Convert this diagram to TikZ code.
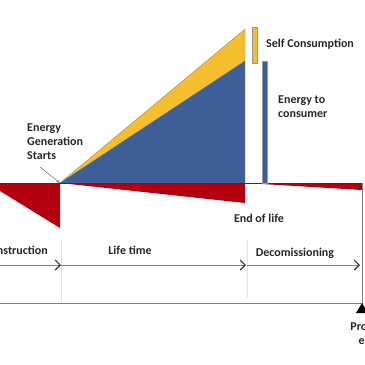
\documentclass[tikz,border=0pt]{standalone}
\usepackage{fontspec}
\setmainfont{Carlito}
\usetikzlibrary{arrows.meta}
\definecolor{selfyellow}{HTML}{F4BE2F}
\definecolor{consumerblue}{HTML}{3D5E96}
\definecolor{lossred}{HTML}{B3000F}
\definecolor{phaseline}{HTML}{D2E8EC}

\begin{document}
\begin{tikzpicture}[x=1pt, y=-1pt, >={Straight Barb[length=5pt,width=10pt,color=black!80,line width=1.1pt]},
    lbl/.style={font=\bfseries\fontsize{12}{14}\selectfont, text=black!85, inner sep=0pt, align=left},
    phase/.style={->, draw=gray, line width=0.9pt},
    divider/.style={draw=phaseline, line width=0.6pt}]
    \useasboundingbox (0,0) rectangle (365,365);
    % points on the time axis
    \coordinate (start) at (60,183);
    \coordinate (eol) at (245,183);
    \coordinate (pend) at (362,183);
    % energy spent and produced
    \fill[lossred] (0,183) -- (start) -- (60,228) -- (0,191) -- cycle;
    \fill[lossred] (start) -- (eol) -- (245,203) -- cycle;
    \fill[lossred] (eol) -- (pend) -- (362,190) -- cycle;
    \filldraw[fill=selfyellow, draw=black!50, line width=0.3pt] (start) -- (245,29) -- (245,61) -- cycle;
    \filldraw[fill=consumerblue, draw=black!50, line width=0.3pt] (start) -- (245,61) -- (eol) -- cycle;
    \draw[black!80, line width=0.7pt] (0,183) -- (pend);
    % bars of the legend
    \filldraw[fill=selfyellow, draw=black!40, line width=0.3pt] (252,27) rectangle (257,63);
    \filldraw[fill=consumerblue, draw=black!40, line width=0.3pt] (262,61) rectangle (267,183);
    % frame
    \coordinate (pbot) at (362,303);
    \draw[gray, line width=0.9pt] (pend) -- (pbot) -- (0,303);
    \fill[black] (356,313) -- (pbot) -- (368,313) -- cycle;
    % phases
    \coordinate (a0) at (0,265);
    \coordinate (a1) at (61,265);
    \coordinate (a2) at (246,265);
    \coordinate (a3) at (247,265);
    \coordinate (a4) at (360,265);
    \draw[divider] (61,240) -- (61,302);
    \draw[divider] (247,240) -- (247,298);
    \draw[phase] (a0) -- (a1);
    \draw[phase] (a1) -- (a2);
    \draw[phase] (a3) -- (a4);
    % labels
    \node[lbl, anchor=east] (constr) at (48,250) {Construction};
    \node[lbl] (life) at (130,250) {Life time};
    \node[lbl] (decom) at (295,253) {Decomissioning};
    \node[lbl] (endlife) at (259,218) {End of life};
    \node[lbl, anchor=west] (self) at (266,44) {Self Consumption};
    \node[lbl, anchor=north west] (consumer) at (278,96) {Energy to\\consumer};
    \node[lbl, anchor=north west] (gen) at (27,124) {Energy\\Generation\\Starts};
    \node[lbl, align=center] (project) at (368,333) {Project\\end};
    \coordinate (tail) at (40,167);
    \draw[-{Stealth[length=4pt]}, gray, line width=0.6pt] (tail) -- (start);
\end{tikzpicture}
\end{document}
